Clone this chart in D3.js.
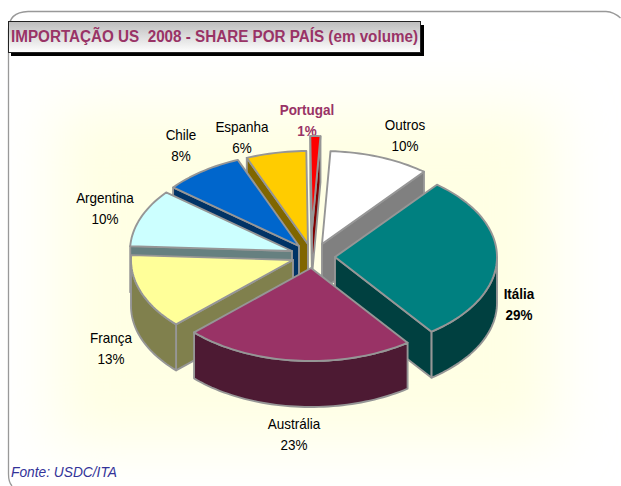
<!DOCTYPE html>
<html><head><meta charset="utf-8">
<script src="https://cdn.jsdelivr.net/npm/d3@7"></script>
<style>html,body{margin:0;padding:0;background:#fff}svg{display:block}text{font-family:"Liberation Sans",Arial,sans-serif}</style>
</head><body><svg id="c" width="621" height="486"></svg>
<script>
const categories=["Outros","Itália","Austrália","França","Argentina","Chile","Espanha","Portugal"];
const shares=[10,29,23,13,10,8,6,1];
const topColors=["#ffffff","#008080","#993366","#ffff99","#ccffff","#0066cc","#ffcc00","#ff0000"];
const wallColors=["#808080","#004040","#4d1a33","#80804d","#668080","#003366","#806600","#800000"];
const apexX=[322,335,311,293,292,299,308,312];
const apexY=[244,257,268,260,251,246,244,229];
const labelX=[405,519,294,111,105,181,242,307];
const labelY=[130,299,429,343,203,140,132,115];
const titleText="IMPORTAÇÃO US  2008 - SHARE POR PAÍS (em volume)";
const sourceText="Fonte: USDC/ITA";
const RX=162,RY=93,DEPTH=46,START=3*Math.PI/180;

const svg=d3.select("#c");
const defs=svg.append("defs");
const tg=defs.append("linearGradient").attr("id","tg").attr("x1",0).attr("x2",0).attr("y1",0).attr("y2",1);
tg.append("stop").attr("offset",0).attr("stop-color","#bdbdbd");
tg.append("stop").attr("offset",1).attr("stop-color","#ffffff");
defs.append("filter").attr("id","blur").attr("x","-30%").attr("y","-30%").attr("width","160%").attr("height","160%")
  .append("feGaussianBlur").attr("stdDeviation",30);

svg.append("rect").attr("x",55).attr("y",105).attr("width",500).attr("height",340).attr("fill","#ffffe4").attr("filter","url(#blur)");
svg.append("path").attr("d","M8.5,474V30Q8.5,12 28,11.5H606Q614,12 620.5,18").attr("fill","none").attr("stroke","#999").attr("stroke-width",1.3);
svg.append("path").attr("d","M8.5,474Q8.5,482 12,486").attr("fill","none").attr("stroke","#999").attr("stroke-width",1.3);

svg.append("rect").attr("x",11).attr("y",25).attr("width",413).attr("height",31).attr("fill","#000");
svg.append("rect").attr("x",8.5).attr("y",21.5).attr("width",412).attr("height",31).attr("fill","url(#tg)").attr("stroke","#222");
svg.append("text").attr("x",11).attr("y",42).attr("font-size",16).attr("font-weight","bold").attr("fill","#993366")
  .attr("textLength",407).attr("lengthAdjust","spacingAndGlyphs")
  .style("white-space","pre").text(titleText);
svg.append("text").attr("x",11).attr("y",477).attr("font-size",14).attr("font-style","italic").attr("fill","#333399")
  .attr("textLength",106).attr("lengthAdjust","spacingAndGlyphs").text(sourceText);

function label(x,y,s,i){
  const bold=i===1||i===7;
  const t=svg.append("text").attr("x",x).attr("y",y).attr("text-anchor","middle").attr("font-size",14.5)
    .attr("fill",i===7?"#993366":"#000").attr("font-weight",bold?"bold":"normal").text(s);
  t.attr("textLength",t.node().getComputedTextLength()*0.93).attr("lengthAdjust","spacingAndGlyphs");
}
categories.forEach((n,i)=>{
  label(labelX[i],labelY[i],n,i);
  label(labelX[i],labelY[i]+20.5,shares[i]+"%",i);
});

const pie=d3.pie().sort(null).value(d=>d).startAngle(START).endAngle(START+2*Math.PI);
const arcs=pie(shares);
const sx=d3.scaleLinear().domain([-1,1]).range([-RX,RX]);
const sy=d3.scaleLinear().domain([-1,1]).range([-RY,RY]);
const pt=(i,a,dz=0)=>[apexX[i]+sx(Math.sin(a)),apexY[i]+sy(-Math.cos(a))+dz];
const line=d3.line();
function arcPts(i,a0,a1,dz){const n=Math.max(3,Math.ceil((a1-a0)/0.03));return d3.range(n+1).map(k=>pt(i,a0+(a1-a0)*k/n,dz));}
const layer=svg.append("g").attr("stroke","#969696").attr("stroke-width",1.9).attr("stroke-linejoin","round");
const order=[7,0,6,5,4,3,1,2];
order.forEach(i=>{
  const d=arcs[i],a0=d.startAngle,a1=d.endAngle,c=[apexX[i],apexY[i]];
  const g=layer.append("g");
  const walls=[];
  if(Math.sin(a0)<0) walls.push(a0);
  if(Math.sin(a1)>0) walls.push(a1);
  walls.forEach(a=>{
    const p=pt(i,a),b=[c[0],c[1]+DEPTH],q=pt(i,a,DEPTH);
    g.append("path").attr("d",line([c,p,q,b])+"Z").attr("fill",wallColors[i]);
  });
  const f0=Math.max(a0,Math.PI/2),f1=Math.min(a1,3*Math.PI/2);
  if(f1>f0){
    g.append("path").attr("d",line(arcPts(i,f0,f1,0).concat(arcPts(i,f0,f1,DEPTH).reverse()))+"Z").attr("fill",wallColors[i]);
  }
  g.append("path").attr("d",line([c].concat(arcPts(i,a0,a1,0)))+"Z").attr("fill",topColors[i]);
});
</script></body></html>
